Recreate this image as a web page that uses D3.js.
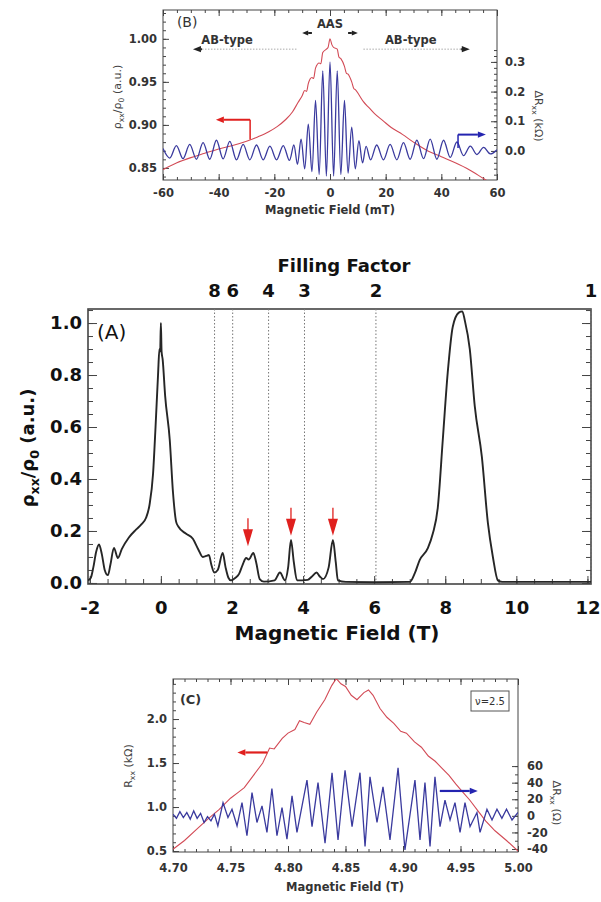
<!DOCTYPE html>
<html>
<head>
<meta charset="utf-8">
<script src="https://cdn.jsdelivr.net/npm/d3@7"></script>
<style>
    body { margin: 0; background: #fff; }
    svg { display: block; font-family: "DejaVu Sans", sans-serif; }
</style>
</head>
<body>
<svg id="fig" width="601" height="902"></svg>
<script>
// ---- panel B: ring resistance near zero field (mT) ----
const bRhoField = [-60, -55, -50, -45, -40, -35, -30, -26, -22, -19, -16, -13.5, -11.5, -10, -9.1, -8.4, -7.8, -6.5, -5.9, -5.2,
    -3.9, -3.3, -2.6, -1.3, -0.7, 0, 0.7, 1.3, 2.6, 3.2, 3.9, 5.2, 5.9, 6.5, 7.8, 8.6, 9.1, 10.4, 12, 14,
    16, 19, 22, 26, 30, 35, 40, 45, 50, 55, 60];
const bRho = [0.848, 0.856, 0.862, 0.867, 0.872, 0.876, 0.881, 0.886, 0.892, 0.898, 0.906, 0.915, 0.926, 0.934, 0.940, 0.939, 0.948, 0.955, 0.954, 0.966,
    0.972, 0.971, 0.984, 0.988, 0.990, 1.000, 0.993, 0.990, 0.988, 0.979, 0.977, 0.968, 0.960, 0.959, 0.950, 0.942, 0.941, 0.935, 0.927, 0.920,
    0.913, 0.905, 0.897, 0.889, 0.880, 0.870, 0.863, 0.856, 0.848, 0.838, 0.828];

const bDeltaField = [-60, -57.6, -55.2, -52.8, -50.4, -48, -45.6, -43.2, -40.8, -38.4, -36, -33.6, -31.2, -28.8, -26.4, -24, -21.6, -19.2, -16.8, -14.6, -13,
    -11.7, -10.4, -9.1, -7.8, -6.5, -5.2, -3.9, -2.6, -1.3, 0, 1.3, 2.6, 3.9, 5.2, 6.5, 7.8, 9.1, 10.4, 11.7,
    13, 14.6, 16.8, 19.2, 21.6, 24, 26.4, 28.8, 31.2, 33.6, 36, 38.4, 40.8, 43.2, 45.6, 48, 50.4, 52.8, 55.2, 57.6, 60];
const bDelta = [0.008, -0.024, 0.018, -0.026, 0.022, -0.028, 0.028, -0.028, 0.036, -0.027, 0.032, -0.030, 0.022, -0.030, 0.020, -0.030, 0.016, -0.030, 0.018, -0.032, 0.020,
    -0.045, 0.040, -0.060, 0.090, -0.070, 0.170, -0.080, 0.270, -0.085, 0.300, -0.085, 0.270, -0.080, 0.170, -0.075, 0.080, -0.060, 0.035, -0.040,
    0.015, -0.030, 0.020, -0.030, 0.022, -0.030, 0.028, -0.028, 0.036, -0.026, 0.040, -0.028, 0.036, -0.022, 0.030, -0.016, 0.016, -0.012, 0.012, -0.010, 0.004];

// ---- panel A: full field sweep (T) ----
const aField = [-2.05, -1.97, -1.9, -1.82, -1.74, -1.66, -1.58, -1.49, -1.42, -1.32, -1.21, -1.1, -0.9, -0.7, -0.55, -0.42, -0.32, -0.22, -0.15, -0.08,
    -0.04, -0.02, 0, 0.02, 0.05, 0.12, 0.25, 0.34, 0.43, 0.5, 0.7, 0.9, 1.05, 1.18, 1.3, 1.35, 1.42, 1.5, 1.6, 1.74,
    1.82, 1.9, 1.97, 2.1, 2.2, 2.3, 2.4, 2.47, 2.6, 2.68, 2.78, 2.9, 3.2, 3.35, 3.49, 3.58, 3.66, 3.74, 3.83, 4.13,
    4.25, 4.38, 4.47, 4.56, 4.72, 4.84, 4.92, 4.98, 5.2, 6, 7, 7.15, 7.28, 7.51, 7.65, 7.79, 7.93, 8.07, 8.21, 8.38,
    8.48, 8.55, 8.69, 8.83, 9.03, 9.2, 9.34, 9.48, 9.6, 12.1];
const aRho = [0.010, 0.020, 0.060, 0.120, 0.148, 0.110, 0.050, 0.030, 0.070, 0.135, 0.096, 0.130, 0.175, 0.205, 0.225, 0.250, 0.300, 0.420, 0.600, 0.800,
    0.900, 0.890, 1.000, 0.890, 0.860, 0.720, 0.550, 0.350, 0.235, 0.215, 0.190, 0.170, 0.130, 0.100, 0.105, 0.108, 0.070, 0.040, 0.050, 0.115,
    0.060, 0.020, 0.010, 0.020, 0.035, 0.070, 0.096, 0.090, 0.115, 0.080, 0.015, 0.005, 0.010, 0.040, 0.010, 0.060, 0.165, 0.080, 0.010, 0.012,
    0.025, 0.040, 0.025, 0.015, 0.060, 0.165, 0.080, 0.010, 0.004, 0.003, 0.004, 0.040, 0.088, 0.134, 0.190, 0.290, 0.550, 0.810, 0.985, 1.040,
    1.045, 1.010, 0.900, 0.680, 0.485, 0.230, 0.100, 0.010, 0.004, 0.004];

const fillingFactors = ['8', '6', '4', '3', '2', '1'];
const fillingField = [1.51, 2.02, 3.03, 4.04, 6.05, 12.1];
const markField = [2.45, 3.66, 4.84];
const markPeak = [0.13, 0.17, 0.17];

// ---- panel C: nu = 2.5 window (T) ----
const cRField = [4.700, 4.710, 4.720, 4.730, 4.740, 4.750, 4.757, 4.762, 4.770, 4.778, 4.784, 4.788, 4.795, 4.800, 4.806, 4.810, 4.814, 4.819, 4.825, 4.832,
    4.838, 4.842, 4.846, 4.850, 4.855, 4.860, 4.866, 4.870, 4.874, 4.880, 4.886, 4.892, 4.898, 4.903, 4.910, 4.916, 4.922, 4.928, 4.934, 4.940,
    4.946, 4.952, 4.958, 4.965, 4.972, 4.980, 4.990, 5.000];
const cR = [0.52, 0.62, 0.74, 0.86, 0.97, 1.10, 1.17, 1.22, 1.36, 1.50, 1.67, 1.66, 1.78, 1.84, 1.88, 1.98, 1.96, 1.94, 2.08, 2.22,
    2.38, 2.46, 2.40, 2.37, 2.27, 2.22, 2.30, 2.33, 2.27, 2.12, 2.02, 1.95, 1.86, 1.84, 1.74, 1.68, 1.58, 1.52, 1.44, 1.36,
    1.26, 1.17, 1.08, 0.96, 0.84, 0.73, 0.62, 0.50];

const cDeltaField = [4.700, 4.703, 4.706, 4.709, 4.712, 4.715, 4.718, 4.721, 4.724, 4.727, 4.730, 4.733, 4.736, 4.739, 4.7435, 4.7478, 4.7513, 4.7557, 4.760, 4.7643,
    4.7687, 4.773, 4.7774, 4.7817, 4.786, 4.7904, 4.7948, 4.7991, 4.8035, 4.8078, 4.8165, 4.8209, 4.8261, 4.8322, 4.8383, 4.8435, 4.8496, 4.8557, 4.8626, 4.8670,
    4.8713, 4.8774, 4.8826, 4.8887, 4.8957, 4.9017, 4.9104, 4.9148, 4.9191, 4.9235, 4.9278, 4.9322, 4.9365, 4.9409, 4.9452, 4.9496, 4.9539, 4.9583, 4.9643, 4.9670,
    4.973, 4.9774, 4.9817, 4.986, 4.990, 4.9948, 5.000];
const cDelta = [2, -3, 5, -2, 4, -4, 6, -3, 3, -8, -1, -6, 2, -12, 16, -2, 8, -12, 16, -24,
    28, -8, 12, -20, 33, -24, 10, -28, 24, -20, 43, -13, 40, -33, 52, -29, 55, -13, 52, -37,
    47, -8, 35, -29, 58, -41, 43, -29, 40, -37, 47, -13, 19, -5, 16, -20, 16, -13, 4, -20,
    8, -5, 8, -3, 8, -5, 4];

// ---- tick labels ----
const bXTicks = [-60, -40, -20, 0, 20, 40, 60];
const bLeftTicks = [0.85, 0.90, 0.95, 1.00];
const bRightTicks = [0.0, 0.1, 0.2, 0.3];
const aXTicks = [-2, 0, 2, 4, 6, 8, 10, 12];
const aYTicks = [0.0, 0.2, 0.4, 0.6, 0.8, 1.0];
const cXTicks = [4.70, 4.75, 4.80, 4.85, 4.90, 4.95, 5.00];
const cLeftTicks = [0.5, 1.0, 1.5, 2.0];
const cRightTicks = [-40, -20, 0, 20, 40, 60];

const svg = d3.select('#fig');
const RED = '#d24a55';
const BLUE = '#3a3a9e';
const ARROW_RED = '#e0201e';
const fmt = spec => d => d3.format(spec)(d).replace('\u2212', '-');

// inward ticks on one side of a frame
function ticks(axisFn, scale, values, size, transform, format, pad, fontSize) {
    const ax = axisFn(scale).tickValues(values).tickSize(-size).tickPadding(pad || 4)
        .tickFormat(format ? format : () => '');
    const g = svg.append('g').attr('transform', transform).call(ax);
    g.select('.domain').remove();
    g.selectAll('line').attr('stroke', '#444');
    g.selectAll('text').attr('font-family', '"DejaVu Sans", sans-serif')
        .attr('font-weight', 'bold').attr('font-size', fontSize || 11.5).attr('fill', '#333');
    return g;
}

function frame(x, y, id, width) {
    const [x0, x1] = x.range();
    const [y1, y0] = y.range();
    svg.append('clipPath').attr('id', id).append('rect')
        .attr('x', x0).attr('y', y0).attr('width', x1 - x0).attr('height', y1 - y0);
    svg.append('rect').attr('x', x0).attr('y', y0).attr('width', x1 - x0).attr('height', y1 - y0)
        .attr('fill', 'none').attr('stroke', '#444').attr('stroke-width', width || 1);
}

function richText(sel, parts, size) {
    let shifted = false;
    parts.forEach(([t, sub]) => {
        const ts = sel.append('tspan').text(t);
        if (sub && !shifted) { ts.attr('font-size', size * 0.7).attr('dy', size * 0.3); shifted = true; }
        else if (sub) { ts.attr('font-size', size * 0.7); }
        else if (shifted) { ts.attr('dy', -size * 0.3); shifted = false; }
    });
}

function hArrow(x1, x2, y, color, head, w) {
    // head at x1
    const dir = x2 > x1 ? 1 : -1;
    svg.append('line').attr('x1', x1 + dir * head).attr('x2', x2).attr('y1', y).attr('y2', y)
        .attr('stroke', color).attr('stroke-width', w);
    svg.append('path')
        .attr('d', `M${x1},${y}L${x1 + dir * head},${y - head * 0.4}L${x1 + dir * head},${y + head * 0.4}Z`)
        .attr('fill', color);
}

// =============== PANEL B ===============
const xB = d3.scaleLinear().domain([-60, 60]).range([163, 497]);
const yBL = d3.scaleLinear().domain([0.836, 1.0335]).range([180, 10]);
const yBR = d3.scaleLinear().domain([-0.098, 0.475]).range([180, 10]);

ticks(d3.axisBottom, xB, d3.range(-60, 61, 5), 3, 'translate(0,180)');
ticks(d3.axisBottom, xB, bXTicks, 6, 'translate(0,180)', fmt('d'), 9);
ticks(d3.axisTop, xB, d3.range(-60, 61, 5), 3, 'translate(0,10)');
ticks(d3.axisTop, xB, bXTicks, 6, 'translate(0,10)');
ticks(d3.axisLeft, yBL, d3.range(0.84, 1.031, 0.01), 3, 'translate(163,0)');
ticks(d3.axisLeft, yBL, bLeftTicks, 6, 'translate(163,0)', fmt('.2f'), 6);
ticks(d3.axisRight, yBR, d3.range(-0.08, 0.35, 0.02), 3, 'translate(497,0)');
ticks(d3.axisRight, yBR, bRightTicks, 6, 'translate(497,0)', fmt('.1f'), 8);
frame(xB, yBL, 'clipB');

const gB = svg.append('g').attr('clip-path', 'url(#clipB)');
gB.append('path').datum(d3.zip(bRhoField, bRho))
    .attr('d', d3.line().x(d => xB(d[0])).y(d => yBL(d[1])).curve(d3.curveMonotoneX))
    .attr('fill', 'none').attr('stroke', RED).attr('stroke-width', 1.1);
gB.append('path').datum(d3.zip(bDeltaField, bDelta))
    .attr('d', d3.line().x(d => xB(d[0])).y(d => yBR(d[1])).curve(d3.curveCatmullRom.alpha(0.5)))
    .attr('fill', 'none').attr('stroke', BLUE).attr('stroke-width', 1.3);

svg.append('text').attr('x', xB(-55)).attr('y', 27).attr('font-size', 14).attr('fill', '#333').text('(B)');

// AB / AAS annotations
const annY = yBL(0.988);
[[-46, -12, -37], [12, 47, 29]].forEach(([a, b, c], i) => {
    svg.append('line').attr('x1', xB(a)).attr('x2', xB(b)).attr('y1', annY).attr('y2', annY)
        .attr('stroke', '#aaa').attr('stroke-dasharray', '1.5,1.5');
    if (i === 0) hArrow(xB(a) - 9, xB(a), annY, '#222', 8, 2);
    else hArrow(xB(b) + 9, xB(b), annY, '#222', 8, 2);
    svg.append('text').attr('x', xB(c)).attr('y', annY - 5).attr('text-anchor', 'middle')
        .attr('font-size', 11.5).attr('font-weight', 'bold').attr('fill', '#333').text('AB-type');
});
svg.append('text').attr('x', xB(0)).attr('y', 28).attr('text-anchor', 'middle')
    .attr('font-size', 11.5).attr('font-weight', 'bold').attr('fill', '#333').text('AAS');
hArrow(xB(-10), xB(-6.5), 33, '#222', 6, 2);
hArrow(xB(10), xB(6.5), 33, '#222', 6, 2);

// series arrows
hArrow(xB(-41), xB(-28.7), yBL(0.906), ARROW_RED, 8, 2);
svg.append('line').attr('x1', xB(-28.7)).attr('x2', xB(-28.7)).attr('y1', yBL(0.906)).attr('y2', yBL(0.883))
    .attr('stroke', ARROW_RED).attr('stroke-width', 1.5);
hArrow(xB(56), xB(46), yBR(0.055), '#2424b0', 8, 2);
svg.append('line').attr('x1', xB(46)).attr('x2', xB(46)).attr('y1', yBR(0.055)).attr('y2', yBR(0.01))
    .attr('stroke', '#2424b0').attr('stroke-width', 1.5);

svg.append('text').attr('transform', 'translate(121,97) rotate(-90)').attr('text-anchor', 'middle')
    .attr('font-size', 11).attr('fill', '#444')
    .call(t => richText(t, [['ρ'], ['xx', 1], ['/ρ'], ['0', 1], [' (a.u.)']], 11));
svg.append('text').attr('transform', 'translate(535,116) rotate(90)').attr('text-anchor', 'middle')
    .attr('font-size', 11).attr('fill', '#444')
    .call(t => richText(t, [['ΔR'], ['xx', 1], [' (kΩ)']], 11));
svg.append('text').attr('x', xB(0)).attr('y', 214).attr('text-anchor', 'middle')
    .attr('font-size', 11.5).attr('font-weight', 'bold').attr('fill', '#333').text('Magnetic Field (mT)');

// =============== PANEL A ===============
const xA = d3.scaleLinear().domain([-2.05, 12.1]).range([88, 591]);
const yA = d3.scaleLinear().domain([-0.004, 1.054]).range([584, 309]);

ticks(d3.axisBottom, xA, d3.range(-2, 12.01, 0.5), 5, 'translate(0,584)');
ticks(d3.axisBottom, xA, aXTicks, 8, 'translate(0,584)', fmt('d'), 17, 18).selectAll('text').attr('fill', '#111');
ticks(d3.axisLeft, yA, d3.range(0, 1.051, 0.05), 5, 'translate(88,0)');
ticks(d3.axisLeft, yA, aYTicks, 9, 'translate(88,0)', fmt('.1f'), 6, 18).selectAll('text').attr('fill', '#111');
ticks(d3.axisRight, yA, d3.range(0, 1.051, 0.05), 5, 'translate(591,0)');
ticks(d3.axisRight, yA, aYTicks, 9, 'translate(591,0)');
frame(xA, yA, 'clipA', 1.6);

fillingField.forEach((f, i) => {
    svg.append('line').attr('x1', xA(f)).attr('x2', xA(f)).attr('y1', yA.range()[1]).attr('y2', yA.range()[0])
        .attr('stroke', '#777').attr('stroke-dasharray', '1.5,2');
    svg.append('text').attr('x', xA(f)).attr('y', 297).attr('text-anchor', 'middle')
        .attr('font-size', 18).attr('font-weight', 'bold').attr('fill', '#111').text(fillingFactors[i]);
});
svg.append('text').attr('x', 344).attr('y', 272).attr('text-anchor', 'middle')
    .attr('font-size', 18).attr('font-weight', 'bold').attr('fill', '#111').text('Filling Factor');

svg.append('g').attr('clip-path', 'url(#clipA)').append('path').datum(d3.zip(aField, aRho))
    .attr('d', d3.line().x(d => xA(d[0])).y(d => yA(d[1])).curve(d3.curveMonotoneX))
    .attr('fill', 'none').attr('stroke', '#262626').attr('stroke-width', 1.9);

markField.forEach((f, i) => {
    const x = xA(f), tip = yA(markPeak[i]) - 3;
    svg.append('line').attr('x1', x).attr('x2', x).attr('y1', tip - 28).attr('y2', tip - 14)
        .attr('stroke', ARROW_RED).attr('stroke-width', 1.3);
    svg.append('path').attr('d', `M${x - 5},${tip - 17}L${x + 5},${tip - 17}L${x},${tip}Z`).attr('fill', ARROW_RED);
});

svg.append('text').attr('x', 97).attr('y', 339).attr('font-size', 20).attr('fill', '#111').text('(A)');
svg.append('text').attr('transform', 'translate(34,448) rotate(-90)').attr('text-anchor', 'middle')
    .attr('font-size', 18).attr('font-weight', 'bold').attr('fill', '#111')
    .call(t => richText(t, [['ρ'], ['xx', 1], ['/ρ'], ['0', 1], [' (a.u.)']], 18));
svg.append('text').attr('x', 337).attr('y', 640).attr('text-anchor', 'middle')
    .attr('font-size', 20).attr('font-weight', 'bold').attr('fill', '#111').text('Magnetic Field (T)');

// =============== PANEL C ===============
const xC = d3.scaleLinear().domain([4.70, 5.00]).range([173, 518]);
const yCL = d3.scaleLinear().domain([0.489, 2.455]).range([852, 679]);
const yCR = d3.scaleLinear().domain([-43.6, 165]).range([852, 679]);

ticks(d3.axisBottom, xC, d3.range(4.70, 5.001, 0.01), 3, 'translate(0,852)');
ticks(d3.axisBottom, xC, cXTicks, 6, 'translate(0,852)', fmt('.2f'), 12);
ticks(d3.axisTop, xC, d3.range(4.70, 5.001, 0.01), 3, 'translate(0,679)');
ticks(d3.axisTop, xC, cXTicks, 6, 'translate(0,679)');
ticks(d3.axisLeft, yCL, d3.range(0.5, 2.45, 0.1), 3, 'translate(173,0)');
ticks(d3.axisLeft, yCL, cLeftTicks, 6, 'translate(173,0)', fmt('.1f'), 6);
ticks(d3.axisRight, yCR, d3.range(-40, 61, 10), 3, 'translate(518,0)');
ticks(d3.axisRight, yCR, cRightTicks, 6, 'translate(518,0)', fmt('d'), 9);
frame(xC, yCL, 'clipC');

const gC = svg.append('g').attr('clip-path', 'url(#clipC)');
gC.append('path').datum(d3.zip(cRField, cR))
    .attr('d', d3.line().x(d => xC(d[0])).y(d => yCL(d[1])))
    .attr('fill', 'none').attr('stroke', RED).attr('stroke-width', 1.1);
gC.append('path').datum(d3.zip(cDeltaField, cDelta))
    .attr('d', d3.line().x(d => xC(d[0])).y(d => yCR(d[1])))
    .attr('fill', 'none').attr('stroke', BLUE).attr('stroke-width', 1.3);

svg.append('text').attr('x', xC(4.706)).attr('y', 704).attr('font-size', 13).attr('font-weight', 'bold')
    .attr('fill', '#333').text('(C)');
svg.append('rect').attr('x', 471).attr('y', 691).attr('width', 38).attr('height', 20)
    .attr('fill', '#fff').attr('stroke', '#555');
svg.append('text').attr('x', 490).attr('y', 705).attr('text-anchor', 'middle').attr('font-size', 10)
    .attr('fill', '#333').text('ν=2.5');

hArrow(xC(4.756), xC(4.782), yCL(1.62), ARROW_RED, 8, 2.2);
hArrow(xC(4.965), xC(4.932), yCR(30), '#2424b0', 8, 2.2);

svg.append('text').attr('transform', 'translate(132,766) rotate(-90)').attr('text-anchor', 'middle')
    .attr('font-size', 11).attr('fill', '#444')
    .call(t => richText(t, [['R'], ['xx', 1], [' (kΩ)']], 11));
svg.append('text').attr('transform', 'translate(553,803) rotate(90)').attr('text-anchor', 'middle')
    .attr('font-size', 11).attr('fill', '#444')
    .call(t => richText(t, [['ΔR'], ['xx', 1], [' (Ω)']], 11));
svg.append('text').attr('x', 345).attr('y', 891).attr('text-anchor', 'middle')
    .attr('font-size', 11.5).attr('font-weight', 'bold').attr('fill', '#333').text('Magnetic Field (T)');
</script>
</body>
</html>
